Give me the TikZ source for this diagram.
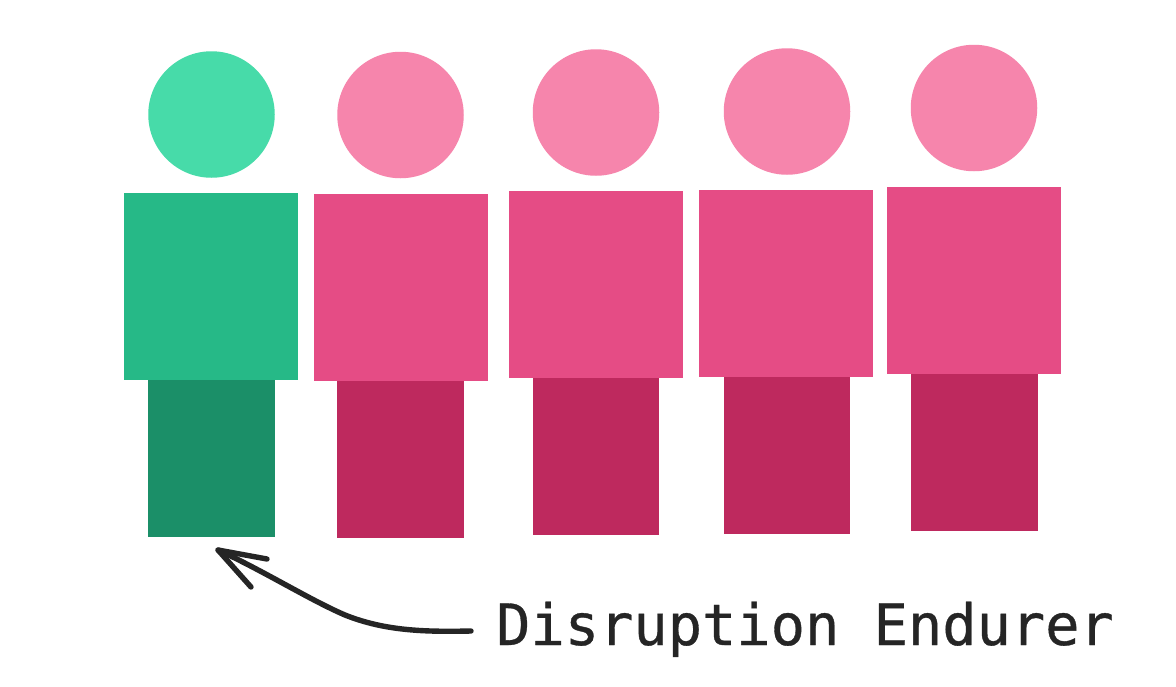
\documentclass[tikz,border=0pt]{standalone}
\usepackage{fontspec}
\newfontfamily\labelfont[FakeBold=0.6]{DejaVu Sans Mono}
\usetikzlibrary{positioning}
\definecolor{ghead}{HTML}{47DBA9}
\definecolor{gbody}{HTML}{26B987}
\definecolor{gleg}{HTML}{1B8F68}
\definecolor{phead}{HTML}{F685AC}
\definecolor{pbody}{HTML}{E54C85}
\definecolor{pleg}{HTML}{BE295E}
\definecolor{ink}{HTML}{252525}
\tikzset{
  x=1pt,y=-1pt,
  part/.style={draw=none,inner sep=0pt,outer sep=0pt},
  headshape/.style={part,circle,minimum size=126.5pt},
  bodyshape/.style={part,rectangle,minimum width=174pt,minimum height=187pt},
  legshape/.style={part,rectangle,minimum width=126.5pt,minimum height=157pt},
  inkline/.style={draw=ink,line width=5.4pt,line cap=round,line join=round},
}
\begin{document}
\begin{tikzpicture}
\useasboundingbox[fill=white] (0,0) rectangle (1176,686);
% figure 1
\node[headshape,fill=ghead] (head1) at (211.5,114.5) {};
\node[bodyshape,fill=gbody] (body1) at (211,286.5) {};
\node[legshape,fill=gleg] (leg1) at (211.5,458.5) {};
% figure 2
\node[headshape,fill=phead] (head2) at (400.5,115) {};
\node[bodyshape,fill=pbody] (body2) at (401,287.5) {};
\node[legshape,fill=pleg] (leg2) at (400.5,459.5) {};
% figure 3
\node[headshape,fill=phead] (head3) at (596,112.5) {};
\node[bodyshape,fill=pbody] (body3) at (596,284.5) {};
\node[legshape,fill=pleg] (leg3) at (596,456.5) {};
% figure 4
\node[headshape,fill=phead] (head4) at (787,111.5) {};
\node[bodyshape,fill=pbody] (body4) at (786,283.5) {};
\node[legshape,fill=pleg] (leg4) at (787,455.5) {};
% figure 5
\node[headshape,fill=phead] (head5) at (974,108) {};
\node[bodyshape,fill=pbody] (body5) at (974,280.5) {};
\node[legshape,fill=pleg] (leg5) at (974.5,452.5) {};
% label and arrow
\node[anchor=base west,inner xsep=0pt,inner ysep=0pt,text=ink,font=\labelfont\fontsize{57}{57}\selectfont] (label) at (496,645) {Disruption Endurer};
\coordinate (start) at (471,631);
\coordinate (tip) at (218,550);
\coordinate (barbA) at (267,559);
\coordinate (barbB) at (251,587);
\draw[inkline] (start) .. controls (425,632) and (385,631) .. (345,615) .. controls (310,600) and (262,570) .. (tip);
\draw[inkline] (barbA) -- (tip) -- (barbB);
\end{tikzpicture}
\end{document}
